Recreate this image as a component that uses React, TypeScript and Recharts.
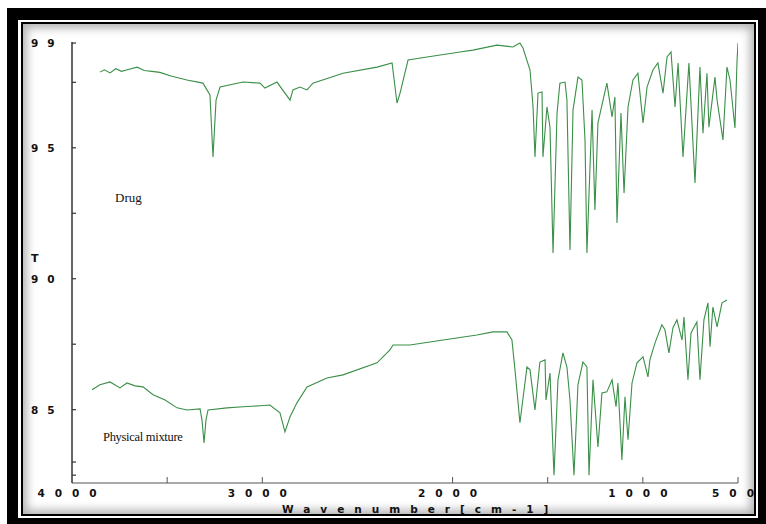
import { LineChart, Line, XAxis, YAxis } from 'recharts';

// [wavenumber cm-1, transmittance %]
const drugSpectrum: [number, number][] = [
    [3853, 97.89], [3830, 97.98], [3800, 97.86], [3770, 98.02], [3740, 97.92], [3700, 98.0],
    [3658, 98.08], [3620, 97.95], [3580, 97.92], [3538, 97.88], [3480, 97.74], [3396, 97.59],
    [3312, 97.47], [3275, 97.02], [3259, 94.65], [3243, 96.82], [3222, 97.32], [3101, 97.51],
    [3012, 97.47], [2986, 97.28], [2923, 97.51], [2854, 96.82], [2839, 97.21], [2802, 97.32],
    [2765, 97.21], [2734, 97.47], [2576, 97.85], [2397, 98.08], [2318, 98.24], [2292, 96.71],
    [2276, 97.09], [2234, 98.35], [2134, 98.47], [1961, 98.66], [1893, 98.73], [1767, 98.92],
    [1683, 98.85], [1646, 99.0], [1630, 98.81], [1593, 97.97], [1577, 96.56], [1567, 94.65],
    [1551, 97.09], [1530, 97.13], [1525, 94.65], [1504, 96.56], [1488, 95.79], [1472, 90.98],
    [1451, 96.33], [1436, 97.47], [1409, 97.51], [1399, 96.82], [1383, 91.1], [1367, 96.44],
    [1341, 97.7], [1320, 97.59], [1304, 95.3], [1294, 90.98], [1267, 96.44], [1252, 92.63],
    [1236, 95.95], [1189, 97.47], [1162, 96.18], [1147, 96.94], [1136, 92.13], [1115, 96.33],
    [1099, 93.27], [1078, 96.56], [1052, 97.59], [1026, 97.85], [999, 95.95], [978, 97.32],
    [947, 97.97], [921, 98.24], [894, 97.09], [873, 98.47], [852, 98.66], [831, 96.56],
    [815, 98.24], [789, 94.65], [758, 98.24], [726, 93.66], [700, 98.08], [684, 95.56],
    [663, 97.85], [653, 95.79], [621, 97.7], [610, 96.82], [579, 95.3], [558, 98.08],
    [542, 97.59], [516, 95.76], [505, 98.35], [500, 99.0],
];

const mixtureSpectrum: [number, number][] = [
    [3895, 85.76], [3853, 85.95], [3800, 86.06], [3748, 85.83], [3711, 86.02], [3669, 85.91],
    [3627, 85.87], [3574, 85.57], [3511, 85.37], [3448, 85.07], [3396, 84.99], [3327, 85.03],
    [3317, 84.61], [3306, 83.73], [3296, 84.61], [3285, 84.99], [3185, 85.07], [3101, 85.11],
    [3012, 85.15], [2960, 85.18], [2907, 84.88], [2881, 84.15], [2854, 84.73], [2818, 85.26],
    [2765, 85.87], [2660, 86.21], [2576, 86.33], [2397, 86.79], [2329, 87.28], [2313, 87.47],
    [2224, 87.47], [2050, 87.66], [1872, 87.85], [1788, 87.97], [1714, 87.97], [1688, 87.66],
    [1672, 86.52], [1646, 84.5], [1609, 86.63], [1593, 86.52], [1567, 84.99], [1541, 86.82],
    [1514, 86.9], [1509, 85.37], [1488, 86.4], [1467, 82.5], [1446, 86.14], [1420, 87.17],
    [1399, 86.63], [1383, 85.37], [1362, 82.5], [1341, 85.95], [1315, 86.82], [1294, 86.63],
    [1283, 82.5], [1262, 86.14], [1236, 83.58], [1215, 85.64], [1189, 85.68], [1162, 86.14],
    [1141, 85.11], [1131, 86.02], [1110, 83.08], [1094, 85.49], [1078, 83.85], [1057, 86.02],
    [1031, 86.79], [999, 87.02], [973, 86.25], [963, 86.9], [936, 87.55], [900, 88.24],
    [884, 88.05], [863, 87.17], [842, 88.12], [821, 88.43], [794, 87.66], [784, 88.54],
    [763, 86.14], [747, 87.93], [716, 88.35], [700, 86.14], [679, 88.43], [658, 89.08],
    [647, 87.4], [632, 88.92], [610, 88.16], [584, 89.08], [558, 89.19],
];

const xTicks = [4000, 3500, 3000, 2000, 1500, 1000, 500];
const xLabels = [4000, 3000, 2000, 1000, 500];
const yTicks = [99, 97.5, 95, 92.5, 90, 87.5, 85, 83, 82.5];
const yLabels = [99, 95, 90, 85];

const drugData = drugSpectrum.map(([wn, t]) => ({ wn, t }));
const mixtureData = mixtureSpectrum.map(([wn, t]) => ({ wn, t }));

const AXIS_X = 72;
const AXIS_Y = 483;
const labelFont = '"DejaVu Sans", sans-serif';

const YTick = (props: any) => {
    const { y, payload } = props;
    const v = payload.value;
    return (
        <g>
            <line x1={AXIS_X} x2={AXIS_X + 4} y1={y} y2={y} stroke="#333" strokeWidth={1.2} />
            {yLabels.includes(v) && (
                <text x={31} y={y + 4} fontSize={10.5} fontWeight="bold" letterSpacing={9} fill="#111" fontFamily={labelFont}>
                    {v}
                </text>
            )}
        </g>
    );
};

const XTick = (props: any) => {
    const { x, payload } = props;
    const v = payload.value;
    return (
        <g>
            {v !== 4000 && <line x1={x} x2={x} y1={AXIS_Y} y2={AXIS_Y - 6} stroke="#555" strokeWidth={1} />}
            {xLabels.includes(v) && (
                <text x={x} y={AXIS_Y + 14} textAnchor="middle" fontSize={10.5} fontWeight="bold" letterSpacing={10} fill="#111" fontFamily={labelFont}>
                    {v}
                </text>
            )}
        </g>
    );
};

const abs = (left: number, top: number, width: number, height: number, extra: any = {}) => ({
    position: 'absolute' as const, left, top, width, height, ...extra,
});

export default function App() {
    return (
        <div style={abs(0, 0, 766, 524, { background: '#fff', overflow: 'hidden' })}>
            <div style={abs(7, 8, 759, 516, { background: '#000' })} />
            <div style={abs(18, 20, 740, 498, { background: '#fff' })} />
            <div style={abs(21, 22, 735, 494, { background: '#000' })} />
            <div style={abs(23, 24, 731, 490, { background: '#fff', boxShadow: 'inset 0 0 10px 4px rgba(0,0,0,0.3)' })} />

            <div style={abs(0, 0, 766, 524)}>
                <LineChart width={766} height={524} margin={{ top: 42, right: 28, bottom: 11, left: 32 }}>
                    <XAxis
                        type="number"
                        dataKey="wn"
                        domain={[500, 4000]}
                        reversed
                        ticks={xTicks}
                        height={30}
                        tickLine={false}
                        axisLine={{ stroke: '#555', strokeWidth: 1.2 }}
                        tick={<XTick />}
                        interval={0}
                        allowDataOverflow
                    />
                    <YAxis
                        type="number"
                        dataKey="t"
                        domain={[82.2, 99.04]}
                        ticks={yTicks}
                        width={40}
                        tickLine={false}
                        axisLine={{ stroke: '#333', strokeWidth: 1.5 }}
                        tick={<YTick />}
                        interval={0}
                        allowDataOverflow
                    />
                    <Line data={drugData} dataKey="t" type="linear" stroke="#3b8f48" strokeWidth={1.1} dot={false} isAnimationActive={false} />
                    <Line data={mixtureData} dataKey="t" type="linear" stroke="#3b8f48" strokeWidth={1.1} dot={false} isAnimationActive={false} />
                </LineChart>
            </div>

            <div style={abs(31, 252, 20, 14, { fontFamily: labelFont, fontWeight: 'bold', fontSize: 11, color: '#111', lineHeight: '14px' })}>T</div>
            <div style={abs(115, 189, 60, 18, { fontFamily: '"Liberation Serif", serif', fontSize: 13, color: '#111', lineHeight: '18px' })}>Drug</div>
            <div style={abs(103, 428, 120, 18, { fontFamily: '"Liberation Serif", serif', fontSize: 12.5, color: '#111', lineHeight: '18px', letterSpacing: -0.3 })}>Physical mixture</div>
            <div style={abs(282, 502, 300, 14, { fontFamily: labelFont, fontWeight: 'bold', fontSize: 10.5, color: '#111', lineHeight: '14px', letterSpacing: 10, whiteSpace: 'nowrap' })}>Wavenumber[cm-1]</div>
        </div>
    );
}
